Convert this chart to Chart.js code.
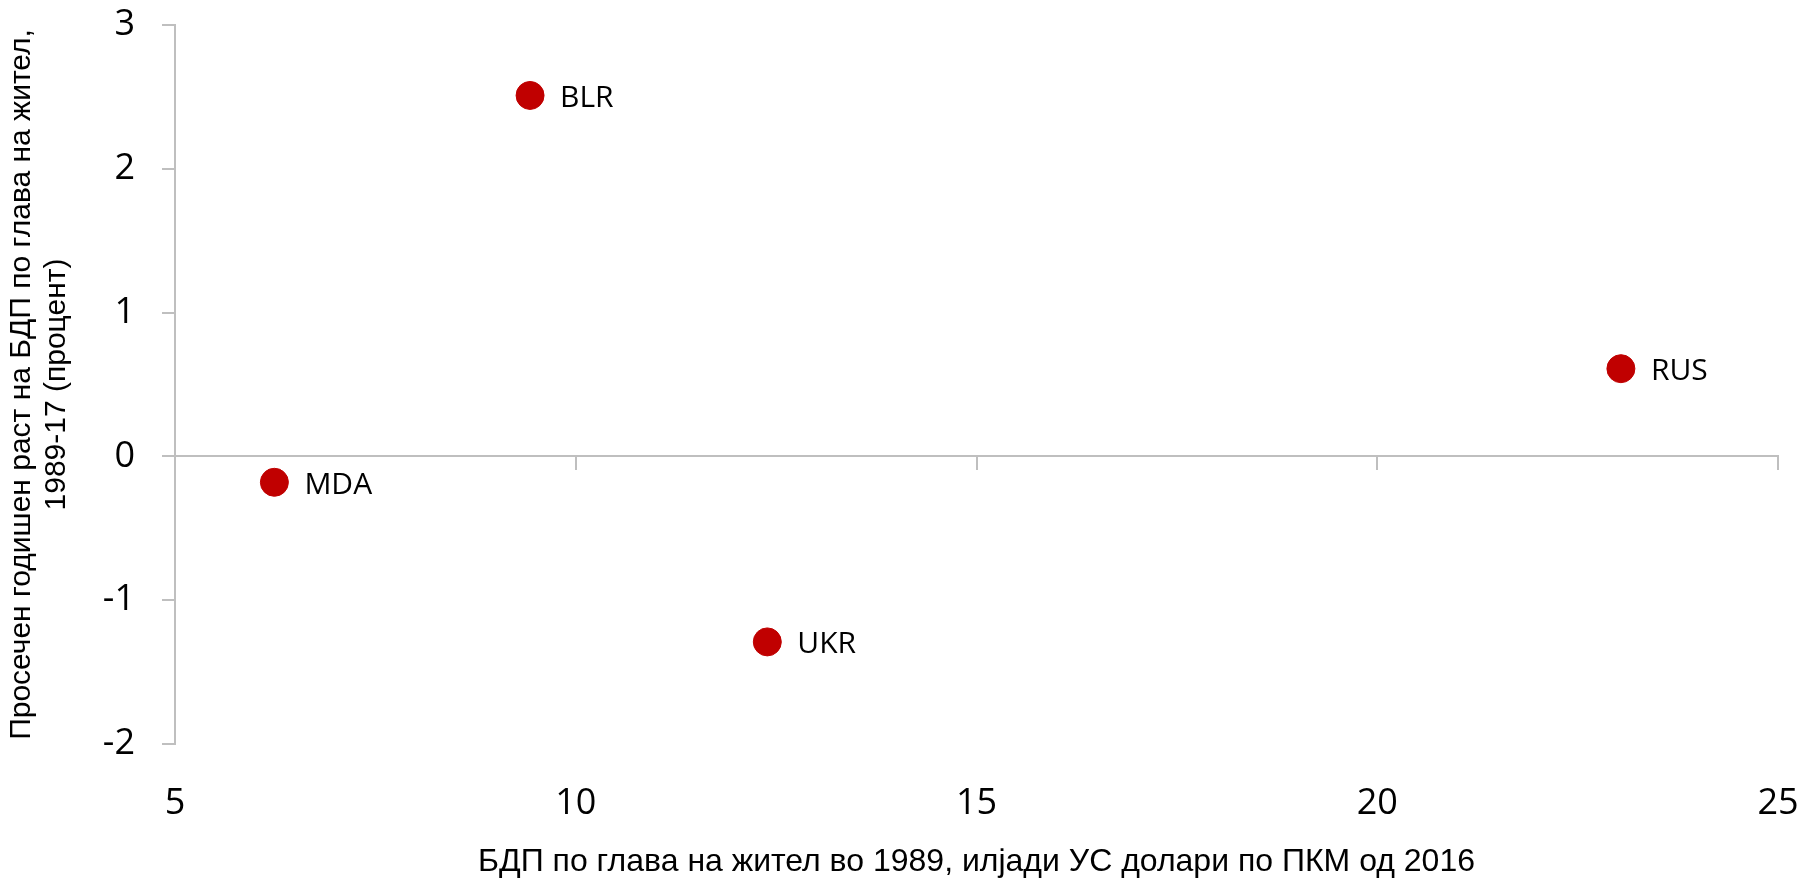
<!DOCTYPE html>
<html>
<head>
<meta charset="utf-8">
<script src="https://cdn.jsdelivr.net/npm/chart.js@4.4.1/dist/chart.umd.min.js"></script>
<style>
    html, body { margin: 0; padding: 0; background: #fff; }
    #wrap { width: 1802px; height: 878px; }
</style>
</head>
<body>
<div id="wrap"><canvas id="chart"></canvas></div>
<script>
// data
const countries = ['BLR', 'RUS', 'MDA', 'UKR'];
const gdp1989 = [9.43, 23.04, 6.24, 12.39];
const growth = [2.51, 0.61, -0.18, -1.29];

const xTitle = 'БДП по глава на жител во 1989, илјади УС долари по ПКМ од 2016';
const yTitle = ['Просечен годишен раст на БДП по глава на жител,', '1989-17 (процент)'];

const red = '#C00000';
const axisGrey = '#BFBFBF';
const segoe = "'Open Sans', 'Noto Sans', sans-serif";
const arial = "'Liberation Sans', Arial, sans-serif";

// country codes next to each dot
const pointLabels = {
    id: 'pointLabels',
    afterDatasetsDraw(chart) {
        const ctx = chart.ctx;
        const meta = chart.getDatasetMeta(0);
        ctx.save();
        ctx.font = '30px ' + segoe;
        ctx.fillStyle = '#000';
        ctx.textBaseline = 'middle';
        ctx.textAlign = 'left';
        meta.data.forEach((pt, i) => {
            ctx.fillText(countries[i], pt.x + 30, pt.y + 3);
        });
        ctx.restore();
    }
};

// the x title sits a little left of the plot centre in the original
const xTitleShift = {
    id: 'xTitleShift',
    beforeDraw(chart) {
        chart.scales.x2.options.title.padding = { top: 0, bottom: 0 };
    }
};

const points = gdp1989.map((x, i) => ({ x: x, y: growth[i] }));

new Chart(document.getElementById('chart'), {
    type: 'scatter',
    data: {
        datasets: [{
            data: points,
            backgroundColor: red,
            borderColor: red,
            pointRadius: 14,
            pointHoverRadius: 14,
            xAxisID: 'x',
            yAxisID: 'y'
        }]
    },
    options: {
        responsive: true,
        maintainAspectRatio: false,
        animation: false,
        layout: { padding: { top: 25, right: 24, left: 0, bottom: 0 } },
        plugins: {
            legend: { display: false },
            tooltip: { enabled: false }
        },
        scales: {
            // axis line through y = 0, tick marks only
            x: {
                type: 'linear',
                position: { y: 0 },
                min: 5, max: 25,
                ticks: { stepSize: 5, color: 'rgba(0,0,0,0)', font: { size: 2 } },
                grid: { drawOnChartArea: false, drawTicks: true, tickLength: 13, color: axisGrey, lineWidth: 2 },
                border: { display: true, color: axisGrey, width: 2 }
            },
            // labels along the bottom
            x2: {
                type: 'linear',
                position: 'bottom',
                min: 5, max: 25,
                ticks: { stepSize: 5, color: '#000', padding: 30, font: { family: segoe, size: 36 } },
                grid: { display: false },
                border: { display: false },
                title: {
                    display: true,
                    text: xTitle,
                    color: '#000',
                    font: { family: arial, size: 32, lineHeight: 1 },
                    padding: { top: 0, bottom: 0 }
                },
                afterFit(scale) {
                    scale.height = 134;
                    scale.paddingLeft = 0;
                    scale.paddingRight = 0;
                }
            },
            y: {
                type: 'linear',
                position: 'left',
                min: -2, max: 3,
                ticks: { stepSize: 1, color: '#000', padding: 27, font: { family: segoe, size: 36 } },
                grid: { drawOnChartArea: false, drawTicks: true, tickLength: 13, color: axisGrey, lineWidth: 2 },
                border: { display: true, color: axisGrey, width: 2 },
                title: {
                    display: true,
                    text: yTitle,
                    color: '#000',
                    font: { family: arial, size: 30, lineHeight: 1.17 },
                    padding: { top: 4, bottom: 0 }
                },
                afterFit(scale) {
                    scale.width = 175;
                    scale.paddingTop = 0;
                    scale.paddingBottom = 0;
                }
            }
        }
    },
    plugins: [pointLabels]
});
</script>
</body>
</html>
